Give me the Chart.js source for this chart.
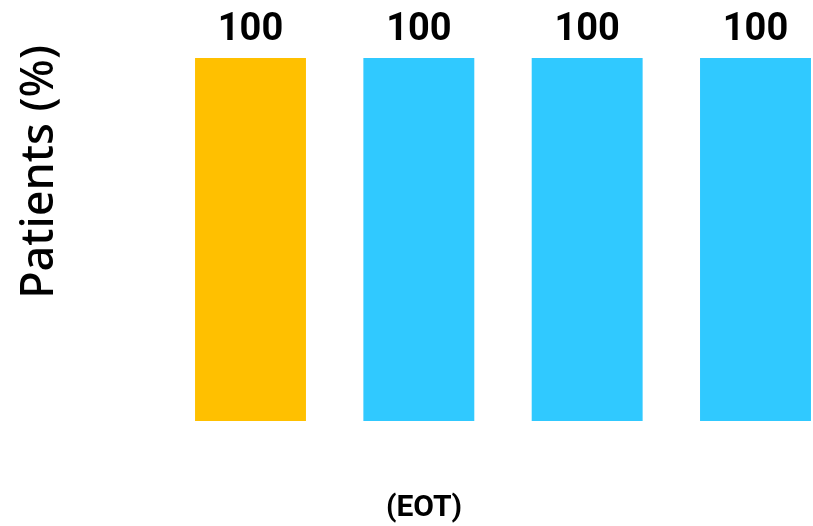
<!DOCTYPE html>
<html><head><meta charset="utf-8">
<script src="https://cdn.jsdelivr.net/npm/chart.js@4"></script>
<style>html,body{margin:0;padding:0;background:#fff}#wrap{width:813px;height:526px;position:relative}</style>
</head><body><div id="wrap"><canvas id="c"></canvas></div>
<script>
const categories = ['', '', '', ''];
const values = [100, 100, 100, 100];
const barColors = ['#FFC000', '#30C9FF', '#30C9FF', '#30C9FF'];
const yTitle = 'Patients (%)';
const xTitle = '(EOT)';

const valueLabelPlugin = {
  id: 'valueLabels',
  afterDatasetsDraw(chart) {
    const ctx = chart.ctx;
    const meta = chart.getDatasetMeta(0);
    ctx.save();
    ctx.font = 'bold 38px Roboto';
    ctx.fillStyle = '#000';
    ctx.textAlign = 'center';
    ctx.textBaseline = 'alphabetic';
    meta.data.forEach((bar, i) => {
      ctx.fillText(String(values[i]), bar.x, bar.y - 18);
    });
    ctx.restore();
  }
};

new Chart(document.getElementById('c'), {
  type: 'bar',
  data: {
    labels: categories,
    datasets: [{
      data: values,
      backgroundColor: barColors,
      categoryPercentage: 1,
      barPercentage: 0.659,
      clip: false
    }]
  },
  options: {
    responsive: true,
    maintainAspectRatio: false,
    animation: false,
    layout: { padding: { left: 92.5, right: 57.5, top: 45, bottom: 0 } },
    plugins: {
      legend: { display: false },
      tooltip: { enabled: false },
      title: {
        display: true, position: 'bottom', text: xTitle,
        font: { size: 30, weight: 'bold', family: 'Roboto' }, color: '#000',
        padding: { top: 0, bottom: 0 }
      }
    },
    scales: {
      x: {
        offset: false,
        ticks: { display: false }, grid: { display: false }, border: { display: false },
        afterFit(s) { s.height = 69; }
      },
      y: {
        min: 0, max: 103.6,
        ticks: { display: false }, grid: { display: false }, border: { display: false },
        title: {
          display: true, text: yTitle, align: 'end',
          font: { size: 45, family: 'Noto Sans', weight: '500' }, color: '#000',
          padding: { top: -79, bottom: 0 }
        },
        afterFit(s) { s.width = 158; }
      }
    }
  },
  plugins: [valueLabelPlugin]
});
</script></body></html>
